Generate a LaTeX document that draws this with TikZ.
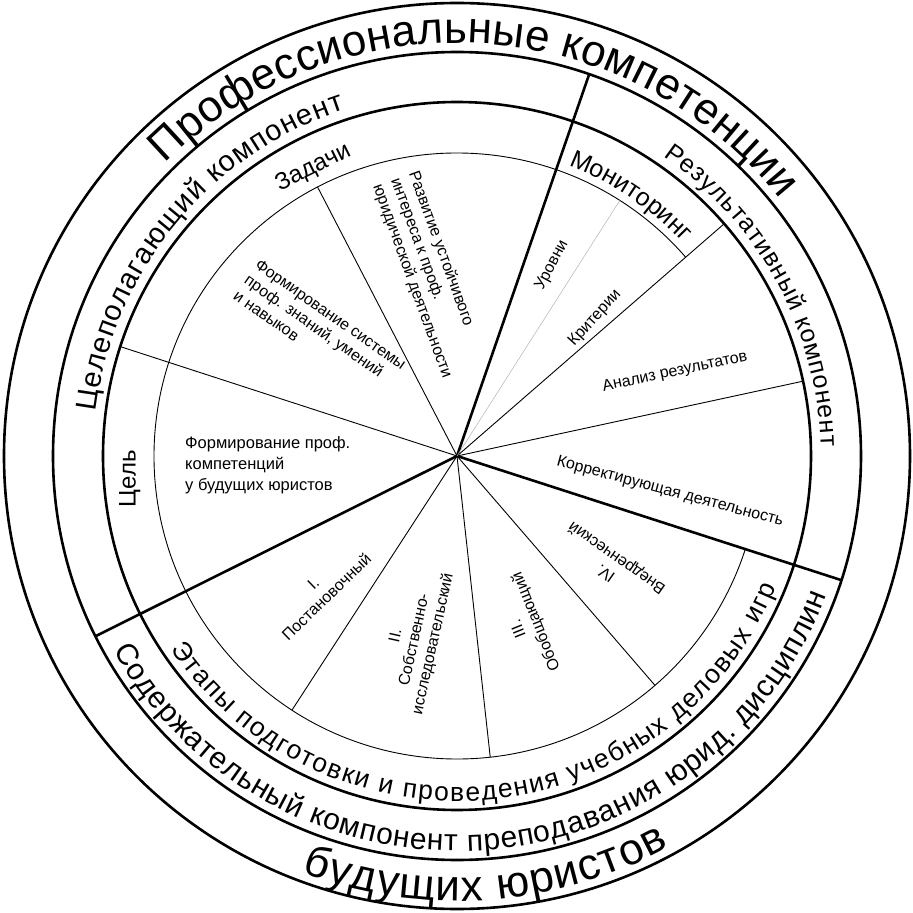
\documentclass[tikz,border=0pt]{standalone}
\usepackage{fontspec}
\setmainfont{Liberation Sans}
\usetikzlibrary{decorations.text}
\tikzset{
  thickln/.style={line width=2.6pt},
  thinln/.style={line width=0.9pt},
  intxt/.style={font=\fontsize{16}{19}\selectfont, align=center, inner sep=0pt},
  arctxt/.style={decorate, decoration={text along path, text align={fit to path}}}
}
\begin{document}
\begin{tikzpicture}[x=1pt,y=1pt]
\useasboundingbox (-457,-457) rectangle (456,456);
% circles
\draw[thickln] (0,0) circle[radius=453];
\draw[thickln] (0,0) circle[radius=404];
\draw[thickln] (0,0) circle[radius=354];
\draw[thinln] (41:303) arc[start angle=41, end angle=342.1, radius=303];
\coordinate (O) at (0,0);
% thick dividers
\foreach \a/\n in {70.9/ta, -17.9/tb, 206.5/tc} {\coordinate (\n) at (\a:404); \draw[thickln] (O) -- (\n);}
% thin lines to 354
\foreach \a/\n in {41/la, 12.2/lb, 162/lc} {\coordinate (\n) at (\a:354); \draw[thinln] (O) -- (\n);}
% thin lines to 303
\foreach \a/\n in {117.4/sa, 237/sb, 276.3/sc, 310.8/sd} {\coordinate (\n) at (\a:303); \draw[thinln] (O) -- (\n);}
\coordinate (sg) at (57.5:303);
\draw[line width=0.5pt, gray!60] (O) -- (sg);
% arc texts
\path[arctxt, decoration={text={|\fontsize{44}{48}\selectfont|Профессиональные компетенции}}] (135:413) arc[start angle=135, end angle=38.5, radius=413];
\path[arctxt, decoration={text={|\fontsize{44}{48}\selectfont|будущих юристов}}] (249.5:445) arc[start angle=249.5, end angle=298.5, radius=445];
\path[arctxt, decoration={text={|\fontsize{29}{32}\selectfont|Целеполагающий компонент}}] (173:364) arc[start angle=173, end angle=108, radius=364];
\path[arctxt, decoration={text={|\fontsize{25}{28}\selectfont|Результативный компонент}}] (55.4:364) arc[start angle=55.4, end angle=1.5, radius=364];
\path[arctxt, decoration={text={|\fontsize{30}{33}\selectfont|Содержательный компонент преподавания юрид. дисциплин}}] (209.5:395) arc[start angle=209.5, end angle=339.4, radius=395];
\path[arctxt, decoration={text={|\fontsize{26.5}{29}\selectfont|Этапы подготовки и проведения учебных деловых игр}}] (214:345) arc[start angle=214, end angle=337.7, radius=345];
\path[arctxt, decoration={text={|\fontsize{25}{28}\selectfont|Мониторинг}}] (69:311) arc[start angle=69, end angle=44, radius=311];
% straight labels in band
\node[font=\fontsize{24}{26}\selectfont, rotate=26.5] (zad) at (116.5:322) {Задачи};
\node[font=\fontsize{24}{26}\selectfont, rotate=90] (cel) at (184:328) {Цель};
% inner texts
\node[intxt, font=\fontsize{16.5}{21}\selectfont, align=left, anchor=west] (t1) at (-272,-9) {Формирование проф.\\компетенций\\у будущих юристов};
\node[intxt, align=left, rotate=-35] (t2) at (-137,126) {Формирование системы\\проф. знаний, умений\\и навыков};
\node[intxt, align=left, rotate=-70] (t3) at (-27,181) {Развитие устойчивого\\интереса к проф.\\юридической деятельности};
\node[intxt, rotate=62] (t4) at (95,191) {Уровни};
\node[intxt, rotate=48] (t5) at (138,138) {Критерии};
\node[intxt, rotate=12] (t6) at (218,84) {Анализ результатов};
\node[intxt, rotate=-15] (t7) at (213,-36) {Корректирующая деятельность};
\node[intxt, rotate=145] (t8) at (155,-109) {IV.\\Внедренческий};
\node[intxt, rotate=112] (t9) at (71,-169) {III.\\Обобщающий};
\node[intxt, rotate=77.5] (t10) at (-42,-184) {II.\\Собственно-\\исследовательский};
\node[intxt, rotate=44] (t11) at (-137,-134) {I.\\Постановочный};
\end{tikzpicture}
\end{document}
